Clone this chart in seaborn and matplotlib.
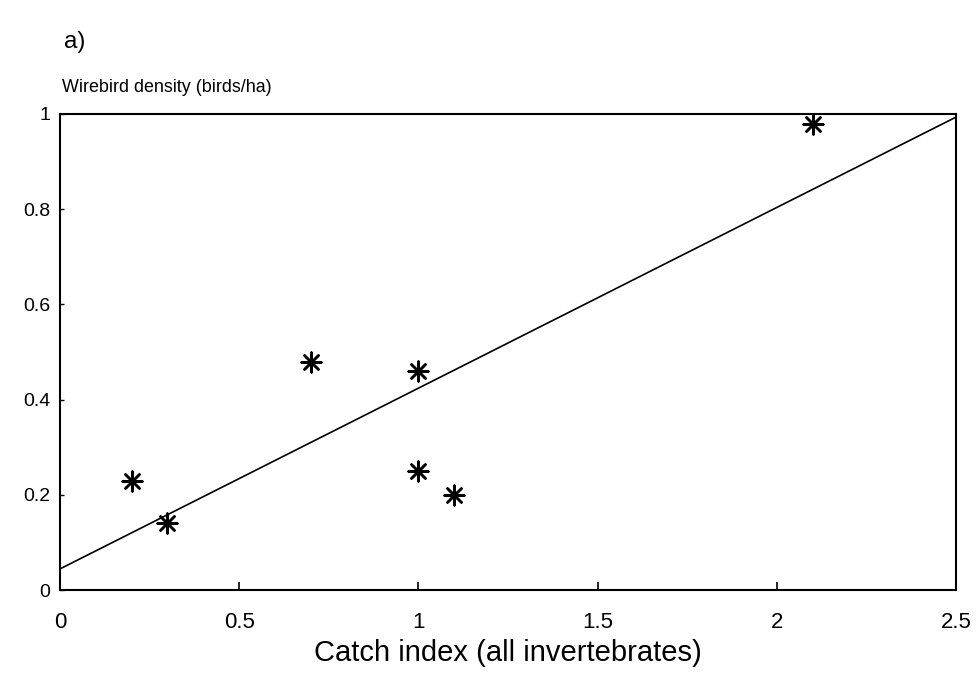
import matplotlib
matplotlib.use("Agg")
import matplotlib.pyplot as plt
import seaborn as sns
import pandas as pd

catch_index = [0.2, 0.3, 0.7, 1.0, 1.0, 1.1, 2.1]
density = [0.23, 0.14, 0.48, 0.46, 0.25, 0.20, 0.98]
x_ticks = [0, 0.5, 1, 1.5, 2, 2.5]
x_tick_labels = ["0", "0.5", "1", "1.5", "2", "2.5"]
y_ticks = [0, 0.2, 0.4, 0.6, 0.8, 1.0]
y_tick_labels = ["0", "0.2", "0.4", "0.6", "0.8", "1"]

df = pd.DataFrame({"catch": catch_index, "density": density})

sns.set_theme(style="white")
plt.rcParams["font.family"] = ["Liberation Sans", "DejaVu Sans"]

fig = plt.figure(figsize=(9.8, 6.81), dpi=100)
ax = fig.add_axes([0.0612, 0.1336, 0.9143, 0.699])
ax.set_xlim(0, 2.5)
ax.set_ylim(0, 1)

sns.regplot(data=df, x="catch", y="density", ax=ax, ci=None, truncate=False,
            marker=(8, 2, 0),
            scatter_kws=dict(s=200, color="black", linewidths=1.8, alpha=1),
            line_kws=dict(color="black", lw=1.2))

ax.set_xlim(0, 2.5)
ax.set_ylim(0, 1)
ax.set_xticks(x_ticks)
ax.set_xticklabels(x_tick_labels)
ax.set_yticks(y_ticks)
ax.set_yticklabels(y_tick_labels)
ax.tick_params(axis="x", bottom=True, direction="in", length=6, width=1.2, pad=16,
               labelsize=16, colors="black")
ax.tick_params(axis="y", left=True, direction="in", length=3, width=1, pad=7,
               labelsize=14, colors="black")
for s in ax.spines.values():
    s.set_color("black")
    s.set_linewidth(1.5)

ax.set_xlabel("Catch index (all invertebrates)", fontsize=21, labelpad=4, color="black")
ax.set_ylabel("")
fig.text(62 / 980, 1 - 88 / 681, "Wirebird density (birds/ha)", fontsize=12.9,
         ha="left", va="center", color="black")
fig.text(64 / 980, 1 - 42 / 681, "a)", fontsize=17.5, ha="left", va="center", color="black")

fig.savefig("out.png", dpi=100)
